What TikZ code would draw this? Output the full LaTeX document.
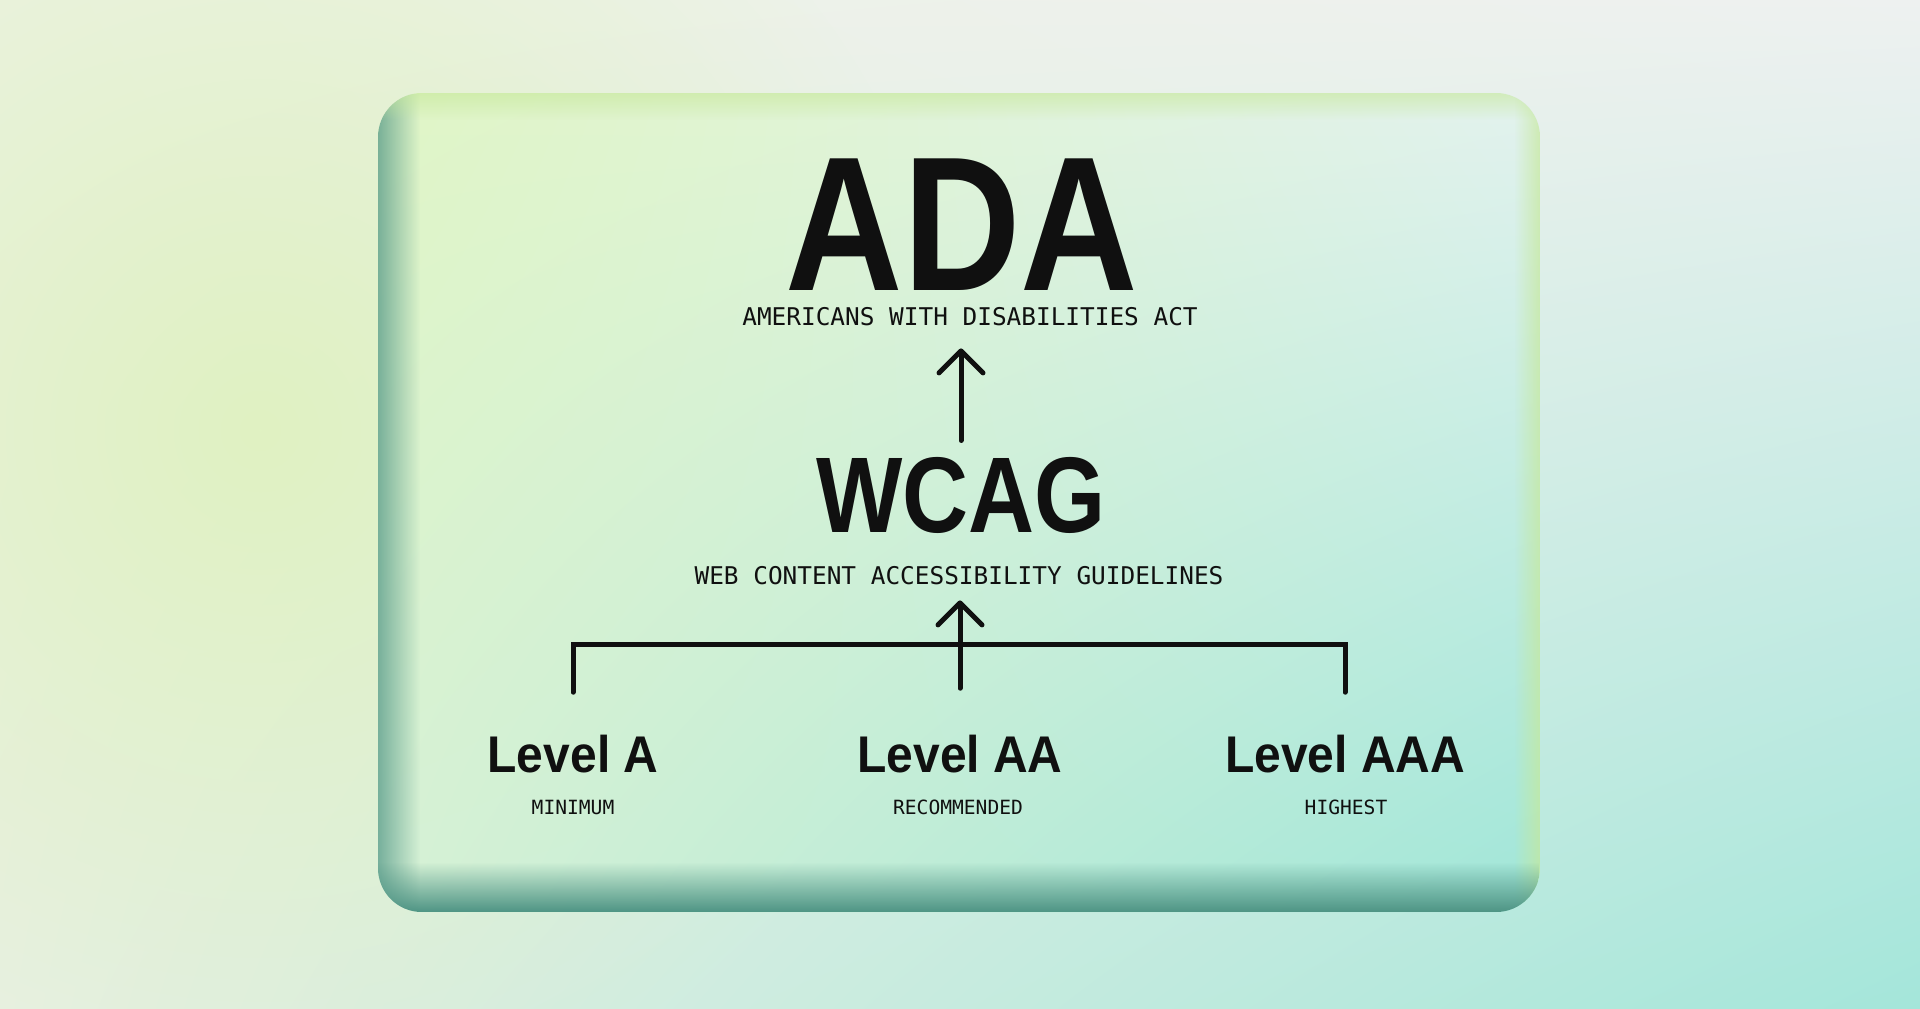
\documentclass[tikz,border=0pt]{standalone}
\usepackage{fontspec}
\usetikzlibrary{arrows.meta,fadings,shadings}
\newfontfamily\headfont{Liberation Sans}[FakeStretch=0.85]
\newfontfamily\levelfont{Liberation Sans}[FakeStretch=0.93]
\newfontfamily\codefont{DejaVu Sans Mono}
\definecolor{ink}{HTML}{101010}
\definecolor{bgtl}{HTML}{EDF2E5}
\definecolor{bgtr}{HTML}{EEF1F0}
\definecolor{bgbl}{HTML}{E8F0E3}
\definecolor{bgbr}{HTML}{A4E6DA}
\definecolor{limeglow}{HTML}{E0F2C2}
\definecolor{cardtl}{HTML}{E0F5C6}
\definecolor{cardtr}{HTML}{E3F2EE}
\definecolor{cardbl}{HTML}{D6F1D6}
\definecolor{cardbr}{HTML}{A0E6D8}
\definecolor{rimlime}{HTML}{C6E89A}
\definecolor{rimteal}{HTML}{4E9484}
\tikzfading[name=fromleft, left color=transparent!0, right color=transparent!100]
\tikzfading[name=fromright, left color=transparent!100, right color=transparent!0]
\tikzfading[name=fromtop, top color=transparent!0, bottom color=transparent!100]
\tikzfading[name=frombottom, top color=transparent!100, bottom color=transparent!0]
\tikzfading[name=glowfade, inner color=transparent!0, outer color=transparent!100]
\begin{document}
\begin{tikzpicture}[x=0.5pt,y=-0.5pt,
 bigname/.style={inner sep=0pt,anchor=base,text depth=0pt,text=ink,font=\headfont\bfseries\fontsize{#1}{#1}\selectfont},
 levelname/.style={inner sep=0pt,anchor=base,text depth=0pt,text=ink,font=\levelfont\bfseries\fontsize{25.8pt}{26pt}\selectfont},
 caption/.style={inner sep=0pt,anchor=base,text depth=0pt,text=ink,font=\codefont\fontsize{#1}{#1}\selectfont},
 linkline/.style={draw=ink,line width=2.5pt,line cap=round},
 arrowline/.style={linkline,-{Straight Barb[length=11pt,width=22pt,round]}}]
 \useasboundingbox (0,0) rectangle (1920,1008);
 \shade[upper left=bgtl,upper right=bgtr,lower left=bgbl,lower right=bgbr] (0,0) rectangle (1920,1008);
 \fill[limeglow,path fading=glowfade] (260,430) circle (700);
 \shade[rounded corners=22pt,upper left=cardtl,upper right=cardtr,lower left=cardbl,lower right=cardbr] (378,93) rectangle (1540,912);
 \begin{scope}
  \clip[rounded corners=22pt] (378,93) rectangle (1540,912);
  \fill[rimteal,path fading=fromleft,fill opacity=0.7] (378,93) rectangle (420,912);
  \fill[rimlime,path fading=fromtop,fill opacity=0.6] (378,93) rectangle (1540,120);
  \fill[rimlime,path fading=fromright,fill opacity=0.7] (1514,93) rectangle (1540,912);
  \fill[rimteal,path fading=frombottom] (378,862) rectangle (1540,912);
 \end{scope}
 \node[bigname=95.7pt] (ada) at (962,290) {ADA};
 \node[caption=12.2pt] (adasub) at (970,325) {AMERICANS WITH DISABILITIES ACT};
 \node[bigname=53.8pt] (wcag) at (961,532) {WCAG};
 \node[caption=12.2pt] (wcagsub) at (959,584) {WEB CONTENT ACCESSIBILITY GUIDELINES};
 \node[levelname] (lvla) at (573,772) {Level A};
 \node[levelname] (lvlaa) at (960,772) {Level AA};
 \node[levelname] (lvlaaa) at (1345,772) {Level AAA};
 \node[caption=9.8pt] (mina) at (573,814) {MINIMUM};
 \node[caption=9.8pt] (recaa) at (958,814) {RECOMMENDED};
 \node[caption=9.8pt] (highaaa) at (1346,814) {HIGHEST};
 \coordinate (adafoot) at ([yshift=-11.5pt]adasub.south);
 \coordinate (wcagfoot) at ([yshift=-8pt]wcagsub.south);
 \draw[arrowline] ([yshift=8pt]wcag.north) -- (wcag.north |- adafoot);
 \draw[linkline] ([yshift=21pt]lvla.north) |- ([yshift=45pt]lvlaa.north) -| ([yshift=21pt]lvlaaa.north);
 \draw[arrowline] ([yshift=23pt]lvlaa.north) -- (lvlaa.north |- wcagfoot);
\end{tikzpicture}
\end{document}
